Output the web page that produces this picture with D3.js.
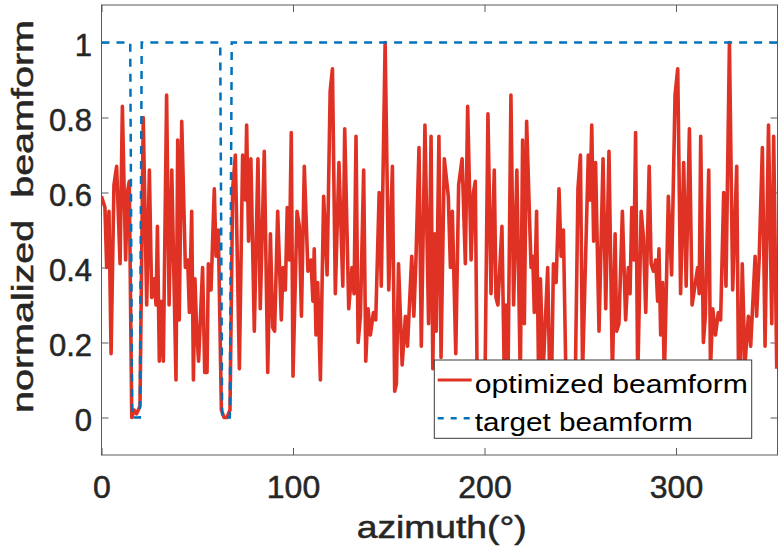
<!DOCTYPE html>
<html>
<head>
<meta charset="utf-8">
<script src="https://cdn.jsdelivr.net/npm/d3@7"></script>
<style>
  body { margin: 0; background: #fff; }
  svg { display: block; font-family: Arial, "Liberation Sans", Helvetica, sans-serif; }
</style>
</head>
<body>
<div id="chart"></div>
<script>
// optimized beamform (azimuth in degrees, normalized value)
const azimuth = [
  0, 1.8, 2.7, 3.9, 5.0, 6.5, 7.9, 9.7, 10.9, 12.6, 13.5, 14.5, 15.8, 17.0, 18.3, 19.2, 20.1,
  21.8, 23.6, 25.0, 26.2, 27.4, 28.5, 29.2, 30.2, 31.4, 32.3, 34.0, 35.3, 36.7, 38.9, 39.8,
  40.6, 41.9, 43.8, 45.0, 45.9, 47.1, 48.0, 48.8, 49.7, 50.7, 52.8, 53.9, 55.1, 55.8, 57.2,
  58.9, 59.8, 61.0, 62.6, 64.0, 65.5, 67.1, 68.5, 69.9, 72.0, 73.7, 75.1, 75.8, 76.8, 78.0,
  79.8, 81.7, 82.9, 85.0, 86.8, 88.2, 89.4, 90.4, 92.0, 93.9, 94.8, 96.0, 97.0, 98.1, 99.1,
  100.0, 102.1, 103.3, 104.4, 105.9, 107.8, 109.4, 110.4, 111.1, 112.0, 112.9, 114.3, 116.0,
  117.8, 119.4, 120.6, 122.1, 124.0, 126.0, 127.0, 129.1, 130.8, 131.9, 132.9, 134.0, 135.2,
  136.9, 138.0, 139.2, 140.4, 142.0, 143.2, 145.0, 146.1, 148.1, 150.0, 151.9, 153.1, 154.0,
  155.1, 157.0, 158.7, 159.8, 162.0, 163.1, 164.2, 165.8, 167.0, 168.9, 170.8, 172.1, 173.0,
  174.0, 174.8, 176.2, 177.3, 179.0, 181.1, 182.2, 183.2, 185.0, 186.5, 188.3, 190.0, 191.2,
  193.0, 194.2, 195.2, 196.3, 198.0, 200.1, 201.8, 203.4, 205.1, 206.0, 207.0, 209.1, 210.3,
  211.2, 212.3, 213.8, 215.2, 216.9, 218.7, 219.9, 220.8, 222.0, 224.3, 225.2, 226.0, 227.2,
  228.3, 229.2, 230.6, 233.0, 234.0, 235.1, 236.0, 237.4, 238.9, 240.0, 241.2, 242.8, 244.5,
  246.0, 247.2, 248.8, 250.1, 251.2, 254.2, 255.1, 256.0, 257.0, 258.0, 259.8, 261.9, 263.3,
  265.0, 266.8, 268.2, 269.0, 270.2, 272.0, 273.7, 275.1, 276.0, 276.9, 278.0, 278.9, 280.0,
  281.8, 283.0, 284.2, 286.0, 287.0, 288.2, 289.4, 290.4, 291.1, 292.0, 293.0, 293.9, 296.0,
  297.7, 299.5, 300.9, 302.4, 304.0, 305.3, 307.0, 308.4, 311.3, 312.1, 312.9, 314.3, 315.3,
  317.1, 318.0, 319.2, 320.6, 322.1, 323.3, 324.9, 326.1, 327.9, 329.6, 331.7, 332.7, 333.6,
  334.6, 336.0, 337.8, 339.0, 341.3, 342.1, 343.4, 345.1, 346.5, 348.3, 350.0, 351.0, 352.6
];
const optimized = [
  0.59, 0.56, 0.40, 0.55, 0.17, 0.62, 0.67, 0.41, 0.83, 0.42, 0.60, 0.63, 0.00, 0.02, 0.01, 0.02, 0.03,
  0.80, 0.30, 0.66, 0.32, 0.37, 0.30, 0.51, 0.15, 0.31, 0.15, 0.86, 0.30, 0.66, 0.10, 0.74,
  0.26, 0.79, 0.40, 0.42, 0.28, 0.55, 0.10, 0.37, 0.23, 0.15, 0.40, 0.12, 0.12, 0.41, 0.34,
  0.61, 0.43, 0.50, 0.02, 0.00, 0.00, 0.02, 0.61, 0.70, 0.13, 0.70, 0.58, 0.78, 0.47, 0.69,
  0.23, 0.69, 0.29, 0.71, 0.12, 0.49, 0.24, 0.23, 0.55, 0.26, 0.40, 0.34, 0.56, 0.42, 0.76,
  0.11, 0.55, 0.51, 0.27, 0.67, 0.39, 0.42, 0.31, 0.45, 0.22, 0.36, 0.10, 0.59,
  0.38, 0.87, 0.93, 0.33, 0.68, 0.35, 0.77, 0.29, 0.40, 0.33, 0.75, 0.20, 0.27,
  0.66, 0.15, 0.29, 0.22, 0.28, 0.26, 0.60, 0.35, 1.00, 0.34, 0.67, 0.07, 0.09,
  0.41, 0.14, 0.27, 0.19, 0.43, 0.27, 0.42, 0.72, 0.19, 0.78, 0.25, 0.75, 0.13,
  0.49, 0.23, 0.75, 0.16, 0.69, 0.59, 0.40, 0.55, 0.17, 0.62, 0.69, 0.41, 0.83,
  0.42, 0.60, 0.63, 0.02, 0.01, 0.02, 0.81, 0.33, 0.66, 0.32, 0.30, 0.51, 0.12,
  0.30, 0.12, 0.86, 0.30, 0.66, 0.10, 0.74, 0.25, 0.79, 0.40, 0.43, 0.28, 0.55,
  0.08, 0.37, 0.12, 0.40, 0.11, 0.12, 0.41, 0.36, 0.61, 0.43, 0.50, 0.02, 0.00,
  0.01, 0.02, 0.61, 0.70, 0.12, 0.70, 0.58, 0.78, 0.47, 0.68, 0.23, 0.69, 0.29,
  0.71, 0.11, 0.49, 0.23, 0.25, 0.55, 0.26, 0.40, 0.33, 0.56, 0.42, 0.76, 0.10,
  0.55, 0.48, 0.28, 0.67, 0.41, 0.39, 0.42, 0.31, 0.45, 0.22, 0.36, 0.10, 0.59,
  0.38, 0.86, 0.93, 0.33, 0.68, 0.35, 0.77, 0.30, 0.40, 0.33, 0.75, 0.20, 0.27,
  0.66, 0.13, 0.29, 0.22, 0.28, 0.26, 0.60, 0.35, 1.00, 0.34, 0.67, 0.08, 0.09,
  0.41, 0.14, 0.27, 0.19, 0.43, 0.27, 0.42, 0.72, 0.19, 0.78, 0.25, 0.75, 0.13
];

// target beamform: 1 everywhere except the two nulls
const targetAzimuth = [0, 15, 16, 20, 21, 62, 63, 67, 68, 353];
const target = [1, 1, 0, 0, 1, 1, 0, 0, 1, 1];

const xTicks = [0, 100, 200, 300];
const yTicks = [0, 0.2, 0.4, 0.6, 0.8, 1];
const seriesNames = ["optimized beamform", "target beamform"];
const seriesColors = ["#e03224", "#0072bd"];

const margin = {top: 5, right: 1.5, bottom: 99, left: 101.5};
let width = 779 - margin.left - margin.right;
let height = 554 - margin.top - margin.bottom;

let svg = d3.select("#chart")
    .append("svg")
    .attr("width", 779)
    .attr("height", 554);

let g = svg.append("g")
    .attr("transform", "translate(" + margin.left + "," + margin.top + ")");

let xScale = d3.scaleLinear().domain([0, 353]).range([0, width]);
let yScale = d3.scaleLinear().domain([-0.1, 1.1]).range([height, 0]);

g.append("clipPath")
    .attr("id", "plot-clip")
    .append("rect")
    .attr("width", width)
    .attr("height", height);

// Axes (ticks point inward, box on)
let axisColor = "#5a5a5a";
let textColor = "#262626";

// slightly heavier text, like the original export
function heavy(sel, color, w) {
    sel.attr("fill", color)
        .attr("stroke", color)
        .attr("stroke-width", w)
        .attr("paint-order", "stroke");
}

let xAxisGroup = g.append("g")
    .attr("transform", `translate(0, ${height})`)
    .attr("color", axisColor)
    .call(d3.axisBottom(xScale).tickValues(xTicks).tickSizeInner(-7).tickSizeOuter(0).tickPadding(20));
xAxisGroup.select(".domain").remove();
xAxisGroup.selectAll("text")
    .style("font-size", "32px")
    .call(heavy, textColor, 0.5);

let yAxisGroup = g.append("g")
    .attr("color", axisColor)
    .call(d3.axisLeft(yScale).tickValues(yTicks).tickSizeInner(-7).tickSizeOuter(0).tickPadding(9.5)
        .tickFormat(d => String(d)));
yAxisGroup.select(".domain").remove();
yAxisGroup.selectAll("text")
    .style("font-size", "31px")
    .attr("dy", "0.41em")
    .call(heavy, textColor, 0.5);

let topAxis = g.append("g")
    .attr("color", axisColor)
    .call(d3.axisTop(xScale).tickValues(xTicks).tickSizeInner(-7).tickSizeOuter(0).tickFormat(""));
topAxis.select(".domain").remove();

let rightAxis = g.append("g")
    .attr("transform", `translate(${width}, 0)`)
    .attr("color", axisColor)
    .call(d3.axisRight(yScale).tickValues(yTicks).tickSizeInner(-7).tickSizeOuter(0).tickFormat(""));
rightAxis.select(".domain").remove();

g.append("rect")
    .attr("width", width)
    .attr("height", height)
    .attr("fill", "none")
    .attr("stroke", axisColor)
    .attr("stroke-width", 1);

// Lines
let optimizedLine = d3.line()
    .x((d, i) => xScale(azimuth[i]))
    .y(d => yScale(d));

let targetLine = d3.line()
    .x((d, i) => xScale(targetAzimuth[i]))
    .y(d => yScale(d));

let plot = g.append("g").attr("clip-path", "url(#plot-clip)");

plot.append("path")
    .datum(optimized)
    .attr("d", optimizedLine)
    .attr("fill", "none")
    .attr("stroke", seriesColors[0])
    .attr("stroke-width", 3.6)
    .attr("stroke-linejoin", "round");

plot.append("path")
    .datum(target)
    .attr("d", targetLine)
    .attr("fill", "none")
    .attr("stroke", seriesColors[1])
    .attr("stroke-width", 2.5)
    .attr("stroke-dasharray", "8,7");

// Axis labels
svg.append("text")
    .attr("x", 441.7)
    .attr("y", 538)
    .attr("text-anchor", "middle")
    .attr("textLength", 170)
    .attr("lengthAdjust", "spacingAndGlyphs")
    .style("font-size", "32px")
    .call(heavy, textColor, 0.5)
    .text("azimuth(°)");

svg.append("text")
    .attr("transform", "translate(33, 216.5) rotate(-90)")
    .attr("text-anchor", "middle")
    .attr("textLength", 393)
    .attr("lengthAdjust", "spacingAndGlyphs")
    .style("font-size", "30px")
    .style("white-space", "pre")
    .call(heavy, textColor, 0.5)
    .text("normalized  beamform");

// Legend
let legend = g.append("g")
    .attr("transform", "translate(332.8, 355)");

legend.append("rect")
    .attr("width", 317.4)
    .attr("height", 78.3)
    .attr("fill", "#fff")
    .attr("stroke", "#3a3a3a")
    .attr("stroke-width", 1);

let legendRows = [
    {name: seriesNames[0], color: seriesColors[0], dash: null, width: 3, y: 20, textLen: 273},
    {name: seriesNames[1], color: seriesColors[1], dash: "6,7", width: 2.5, y: 58.3, textLen: 218}
];

legendRows.forEach(row => {
    legend.append("line")
        .attr("x1", 3.4)
        .attr("x2", 37.4)
        .attr("y1", row.y)
        .attr("y2", row.y)
        .attr("stroke", row.color)
        .attr("stroke-width", row.width)
        .attr("stroke-dasharray", row.dash);
    legend.append("text")
        .attr("x", 40.5)
        .attr("y", row.y + 12.5)
        .attr("textLength", row.textLen)
        .attr("lengthAdjust", "spacingAndGlyphs")
        .style("font-size", "26px")
        .attr("fill", "#000")
        .text(row.name);
});
</script>
</body>
</html>
